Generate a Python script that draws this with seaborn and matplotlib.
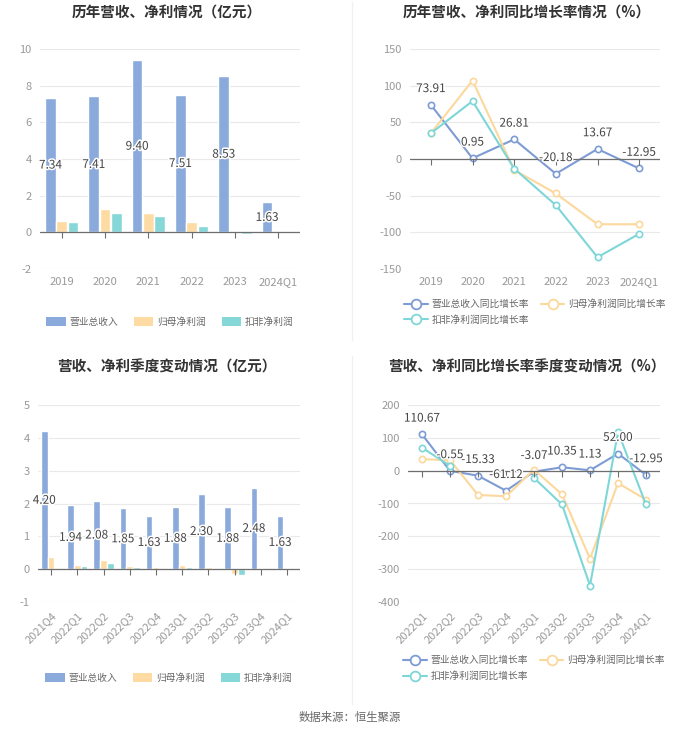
import numpy as np
import pandas as pd
import seaborn as sns
import matplotlib.pyplot as plt
import matplotlib.patheffects as pe
from matplotlib.patches import Patch
from matplotlib.lines import Line2D

# ---- data ----
years = ['2019', '2020', '2021', '2022', '2023', '2024Q1']
rev_year = [7.34, 7.41, 9.40, 7.51, 8.53, 1.63]
np_year = [0.60, 1.26, 1.05, 0.55, 0.06, 0.01]
dnp_year = [0.58, 1.03, 0.90, 0.33, -0.08, 0.00]

rev_year_g = [73.91, 0.95, 26.81, -20.18, 13.67, -12.95]
np_year_g = [35, 107, -15, -47, -89, -89]
dnp_year_g = [35, 79, -13, -63, -134, -102]

quarters = ['2021Q4', '2022Q1', '2022Q2', '2022Q3', '2022Q4',
            '2023Q1', '2023Q2', '2023Q3', '2023Q4', '2024Q1']
rev_q = [4.20, 1.94, 2.08, 1.85, 1.63, 1.88, 2.30, 1.88, 2.48, 1.63]
np_q = [0.38, 0.12, 0.28, 0.10, 0.08, 0.13, 0.07, -0.15, 0.05, 0.01]
dnp_q = [0.00, 0.10, 0.19, 0.08, 0.01, 0.08, 0.00, -0.17, 0.00, 0.00]

quarters_g = ['2022Q1', '2022Q2', '2022Q3', '2022Q4', '2023Q1',
              '2023Q2', '2023Q3', '2023Q4', '2024Q1']
rev_q_g = [110.67, -0.55, -15.33, -61.12, -3.07, 10.35, 1.13, 52.00, -12.95]
np_q_g = [35, 32, -74, -78, 3, -72, -268, -38, -88]
dnp_q_g = [70, 15, np.nan, np.nan, -22, -103, -350, 118, -103]

bar_names = ['营业总收入', '归母净利润', '扣非净利润']
line_names = ['营业总收入同比增长率', '归母净利润同比增长率', '扣非净利润同比增长率']

bar_colors = ['#8BAADC', '#FDDBA2', '#86D7D8']
line_colors = ['#7E9CD4', '#FCD89C', '#7FD6D8']

sns.set_theme(style='white')
plt.rcParams['font.family'] = ['Noto Sans CJK SC', 'DejaVu Sans']
plt.rcParams['axes.unicode_minus'] = False

TICK_C = '#999999'
GRID_C = '#E9E9E9'
AXIS_C = '#6E6E6E'
LABEL_C = '#444444'

fig = plt.figure(figsize=(7, 7.34), dpi=100)
W, H = 700, 734


def add_ax(x0, y0, x1, y1):
    return fig.add_axes([x0 / W, 1 - y1 / H, (x1 - x0) / W, (y1 - y0) / H])


def style_axis(ax, n, yticks, rotate=False):
    ax.set_xlim(-0.5, n - 0.5)
    ax.set_ylim(yticks[0], yticks[-1])
    ax.set_yticks(yticks)
    ax.set_yticklabels([str(t) for t in yticks])
    for s in ax.spines.values():
        s.set_visible(False)
    ax.grid(axis='y', color=GRID_C, lw=0.8)
    ax.grid(axis='x', visible=False)
    ax.set_axisbelow(True)
    ax.tick_params(length=0, labelsize=8, labelcolor=TICK_C, pad=6)
    ax.set_xlabel('')
    ax.set_ylabel('')
    ax.axhline(0, color=AXIS_C, lw=0.9, zorder=4)
    ax.plot(range(n), [0] * n, ls='none', marker=3, ms=4, color=AXIS_C, mew=0.8, zorder=4)
    if rotate:
        for lab in ax.get_xticklabels():
            lab.set_rotation(45)
            lab.set_ha('right')
            lab.set_rotation_mode('anchor')


def bar_panel(ax, cats, series, yticks, rotate=False):
    df = pd.DataFrame({
        'period': np.repeat(cats, 3),
        'item': bar_names * len(cats),
        'value': np.ravel(np.column_stack(series)),
    })
    sns.barplot(data=df, x='period', y='value', hue='item', hue_order=bar_names,
                palette=bar_colors, width=0.78, gap=0.04, saturation=1,
                legend=False, ax=ax, zorder=3)
    style_axis(ax, len(cats), yticks, rotate)
    for bar, v in zip(ax.containers[0], series[0]):
        ax.text(bar.get_x() + bar.get_width() / 2, v / 2, f'{v:.2f}',
                ha='center', va='center', fontsize=8.5, color=LABEL_C, zorder=5,
                path_effects=[pe.withStroke(linewidth=2.2, foreground='white')])
    handles = [Patch(facecolor=c, edgecolor='none') for c in bar_colors]
    return handles


def line_panel(ax, cats, series, yticks, rotate=False):
    n = len(cats)
    for vals, c, name in zip(series, line_colors, line_names):
        v = np.asarray(vals, dtype=float)
        seg = np.cumsum(np.isnan(v))
        df = pd.DataFrame({'pos': np.arange(n), 'val': v, 'seg': seg}).dropna()
        sns.lineplot(data=df, x='pos', y='val', units='seg', estimator=None,
                     color=c, lw=1.5, marker='o', ms=4.5, mfc='white', mec=c, mew=1.2,
                     ax=ax, zorder=3)
    ax.set_xticks(range(n))
    ax.set_xticklabels(cats)
    style_axis(ax, n, yticks, rotate)
    for i, v in enumerate(series[0]):
        ax.annotate(f'{v:.2f}', (i, v), xytext=(0, 7), textcoords='offset points',
                    ha='center', va='bottom', fontsize=8.5, color=LABEL_C, zorder=5,
                    path_effects=[pe.withStroke(linewidth=2, foreground='white')])
    handles = [Line2D([], [], color=c, lw=1.5, marker='o', ms=7, mfc='white', mec=c, mew=1.3)
               for c in line_colors]
    return handles


def title(x, y, s):
    fig.text(x / W, 1 - y / H, s, ha='center', va='center', fontsize=10.5,
             fontweight='bold', color='#333333')


# panel 1
ax1 = add_ax(40, 49, 300, 269)
h = bar_panel(ax1, years, [rev_year, np_year, dnp_year], [-2, 0, 2, 4, 6, 8, 10])
ax1.legend(h, bar_names, loc='center', bbox_to_anchor=(0.5, -0.24), ncol=3, frameon=False,
           fontsize=7, labelcolor='#666666', handlelength=2.0, handleheight=1.0,
           columnspacing=1.6, handletextpad=0.4)
title(167, 13, '历年营收、净利情况（亿元）')

# panel 2
ax2 = add_ax(410, 49, 660, 269)
h = line_panel(ax2, years, [rev_year_g, np_year_g, dnp_year_g], [-150, -100, -50, 0, 50, 100, 150])
ax2.legend([h[0], h[2], h[1]], [line_names[0], line_names[2], line_names[1]],
           loc='center', bbox_to_anchor=(0.5, -0.195), ncol=2, frameon=False,
           fontsize=7, labelcolor='#666666', handlelength=2.4,
           columnspacing=1.2, handletextpad=0.4, labelspacing=0.6)
title(527, 13, '历年营收、净利同比增长率情况（%）')

# panel 3
ax3 = add_ax(38, 405, 300, 602)
h = bar_panel(ax3, quarters, [rev_q, np_q, dnp_q], [-1, 0, 1, 2, 3, 4, 5], rotate=True)
ax3.legend(h, bar_names, loc='center', bbox_to_anchor=(0.5, -0.386), ncol=3, frameon=False,
           fontsize=7, labelcolor='#666666', handlelength=2.0, handleheight=1.0,
           columnspacing=1.6, handletextpad=0.4)
title(167, 367, '营收、净利季度变动情况（亿元）')

# panel 4
ax4 = add_ax(408, 405, 660, 602)
h = line_panel(ax4, quarters_g, [rev_q_g, np_q_g, dnp_q_g],
               [-400, -300, -200, -100, 0, 100, 200], rotate=True)
ax4.legend([h[0], h[2], h[1]], [line_names[0], line_names[2], line_names[1]],
           loc='center', bbox_to_anchor=(0.5, -0.335), ncol=2, frameon=False,
           fontsize=7, labelcolor='#666666', handlelength=2.4,
           columnspacing=1.2, handletextpad=0.4, labelspacing=0.6)
title(527, 367, '营收、净利同比增长率季度变动情况（%）')

# dividers and footer
fig.add_artist(Line2D([352 / W, 352 / W], [1 - 2 / H, 1 - 340 / H], color='#F0F0F0', lw=1))
fig.add_artist(Line2D([352 / W, 352 / W], [1 - 356 / H, 1 - 704 / H], color='#F0F0F0', lw=1))
fig.text(0.5, 1 - 718 / H, '数据来源：恒生聚源', ha='center', va='center',
         fontsize=8.2, color='#666666')

fig.savefig('out.png', dpi=100)
